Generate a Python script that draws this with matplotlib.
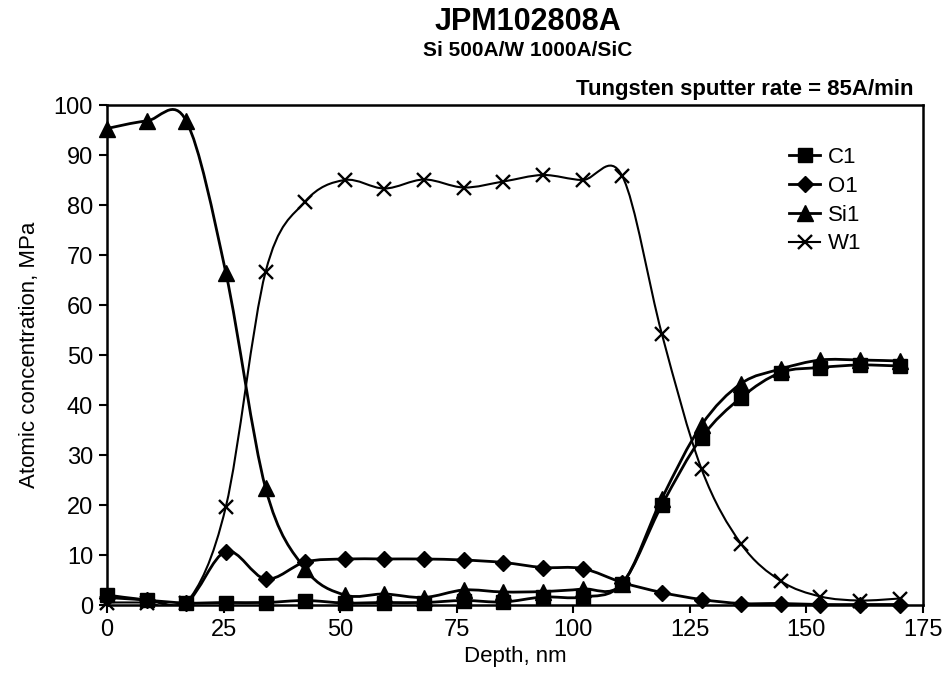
import numpy as np
import matplotlib
matplotlib.use("Agg")
import matplotlib.pyplot as plt
from matplotlib.path import Path
from matplotlib.patches import PathPatch
from matplotlib.lines import Line2D

plt.rcParams['font.family'] = ['Liberation Sans', 'DejaVu Sans']

# depth (nm) of each sputter cycle
depth = [0, 8.5, 17, 25.5, 34, 42.5, 51, 59.5, 68, 76.5, 85, 93.5, 102,
         110.5, 119, 127.5, 136, 144.5, 153, 161.5, 170]

c1 = [2, 1, 0.4, 0.5, 0.5, 0.9, 0.4, 0.5, 0.5, 0.9, 0.6, 1.6, 1.6,
      4.3, 20, 33.5, 41.5, 46.5, 47.5, 48, 47.8]
o1 = [1.5, 1, 0.5, 10.7, 5.2, 8.6, 9.2, 9.2, 9.2, 9, 8.5, 7.5, 7.3,
      4.5, 2.5, 1.1, 0.3, 0.3, 0.1, 0.1, 0.1]
si1 = [95.3, 96.8, 96.8, 66.4, 23.4, 7.2, 2, 2.2, 1.5, 3, 2.6, 2.7, 3.2,
       4.3, 21.3, 36, 44.3, 47.2, 49, 49, 48.8]
w1 = [0.5, 0.5, 0.4, 19.7, 66.6, 80.7, 85, 83.3, 85.1, 83.5, 84.7, 86, 85,
      85.8, 54.2, 27.2, 12.2, 4.8, 1.7, 0.9, 1.3]

series = [
    ("C1", c1, dict(marker='s', markersize=10), 2.0),
    ("O1", o1, dict(marker='D', markersize=8), 2.0),
    ("Si1", si1, dict(marker='^', markersize=11), 2.0),
    ("W1", w1, dict(marker='x', markersize=10, markeredgewidth=1.7), 1.5),
]


def smooth_path(x, y):
    # Excel-style smoothed line: Catmull-Rom turned into cubic Beziers
    p = np.column_stack([x, y]).astype(float)
    n = len(p)
    verts = [p[0]]
    codes = [Path.MOVETO]
    for i in range(n - 1):
        p0 = p[max(i - 1, 0)]
        p1, p2 = p[i], p[i + 1]
        p3 = p[min(i + 2, n - 1)]
        verts += [p1 + (p2 - p0) / 6, p2 - (p3 - p1) / 6, p2]
        codes += [Path.CURVE4] * 3
    return Path(verts, codes)


fig = plt.figure(figsize=(9.49, 6.87), dpi=100)
ax = fig.add_axes([107 / 949, 1 - 605 / 687, 816 / 949, 500 / 687])

handles = []
for name, vals, mk, lw in series:
    ax.add_patch(PathPatch(smooth_path(depth, vals), facecolor='none',
                           edgecolor='black', lw=lw, zorder=2))
    ax.plot(depth, vals, linestyle='none', color='black', zorder=3,
            clip_on=False, **mk)
    handles.append(Line2D([], [], color='black', lw=lw, label=name, **mk))

ax.set_xlim(0, 175)
ax.set_ylim(0, 100)
ax.set_xticks(np.arange(0, 176, 25))
ax.set_yticks(np.arange(0, 101, 10))
ax.tick_params(direction='out', length=6, width=1.5, labelsize=17, pad=4)
for s in ax.spines.values():
    s.set_linewidth(1.8)

ax.set_xlabel("Depth, nm", fontsize=16, labelpad=4)
ax.set_ylabel("Atomic concentration, MPa", fontsize=16, labelpad=10)

leg = ax.legend(handles=handles, loc='upper left',
                bbox_to_anchor=(778 / 949, 1 - 136 / 687),
                bbox_transform=fig.transFigure, frameon=False, fontsize=16,
                handlelength=1.4, handletextpad=0.35, labelspacing=0.35,
                borderpad=0)

fig.text(528 / 949, 1 - 22 / 687, "JPM102808A", ha='center', va='center',
         fontsize=22, fontweight='bold')
fig.text(528 / 949, 1 - 51 / 687, "Si 500A/W 1000A/SiC", ha='center',
         va='center', fontsize=15, fontweight='bold')
fig.text(914 / 949, 1 - 89 / 687, "Tungsten sputter rate = 85A/min",
         ha='right', va='center', fontsize=16, fontweight='bold')

fig.savefig("out.png", dpi=100)
